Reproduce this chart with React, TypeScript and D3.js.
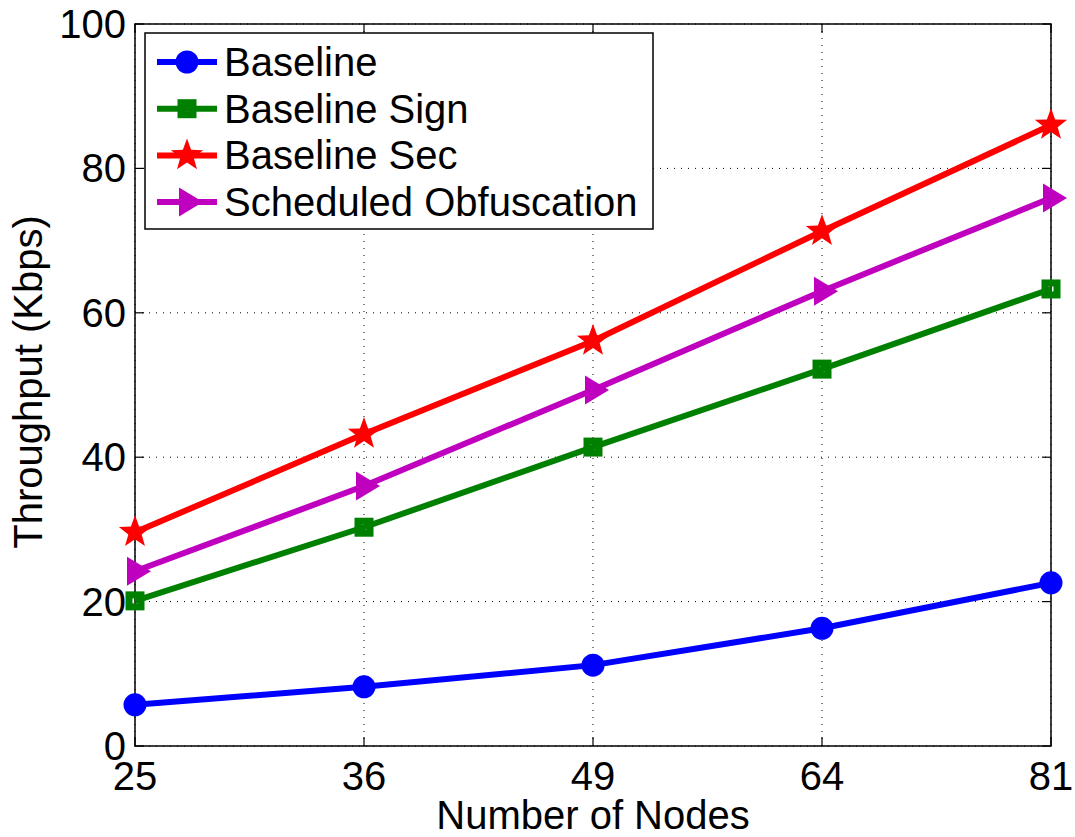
import React from "react";
import * as d3 from "d3";

const categories = ["25", "36", "49", "64", "81"];
const baseline = [5.7, 8.2, 11.2, 16.3, 22.6];
const baselineSign = [20.1, 30.3, 41.4, 52.2, 63.3];
const baselineSec = [29.6, 43.2, 56.1, 71.3, 86.0];
const scheduledObf = [24.2, 36.0, 49.3, 63.0, 75.9];
const yTicks = [0, 20, 40, 60, 80, 100];

const seriesNames = ["Baseline", "Baseline Sign", "Baseline Sec", "Scheduled Obfuscation"];
const seriesColors = ["#0000ff", "#008000", "#ff0000", "#bf00bf"];
const seriesMarkers = ["circle", "square", "star", "triangle"];

const W = 1075, H = 837;
const L = 135, R = 1051, T = 24, B = 746;
const FONT = "Liberation Sans, Arial, sans-serif";

function Marker({ type, x, y, color }: { type: string; x: number; y: number; color: string }) {
  if (type === "circle") return <circle cx={x} cy={y} r={11.5} fill={color} />;
  if (type === "square")
    return <rect x={x - 6} y={y - 6} width={12} height={12} fill="none" stroke={color} strokeWidth={7} />;
  if (type === "star") {
    const pts: string[] = [];
    for (let i = 0; i < 10; i++) {
      const r = i % 2 === 0 ? 17 : 7;
      const a = -Math.PI / 2 + (i * Math.PI) / 5;
      pts.push(`${x + r * Math.cos(a)},${y + r * Math.sin(a)}`);
    }
    return <polygon points={pts.join(" ")} fill={color} />;
  }
  return <polygon points={`${x - 8},${y - 14.5} ${x + 16},${y} ${x - 8},${y + 14.5}`} fill={color} />;
}

export default function App() {
  const x = d3.scalePoint<string>().domain(categories).range([L, R]);
  const y = d3.scaleLinear().domain([0, 100]).range([B, T]);
  const allSeries = [baseline, baselineSign, baselineSec, scheduledObf];
  const line = d3
    .line<number>()
    .x((_, i) => x(categories[i]) as number)
    .y((d) => y(d));

  return (
    <svg width={W} height={H} style={{ position: "absolute", left: 0, top: 0 }} fontFamily={FONT}>
      <rect x={0} y={0} width={W} height={H} fill="white" />
      {categories.map((c) => (
        <line key={"gx" + c} x1={x(c)} x2={x(c)} y1={T} y2={B} stroke="#000" strokeWidth={1} strokeDasharray="1,6" />
      ))}
      {yTicks.map((t) => (
        <line key={"gy" + t} x1={L} x2={R} y1={y(t)} y2={y(t)} stroke="#000" strokeWidth={1} strokeDasharray="1,6" />
      ))}
      {categories.map((c) => (
        <g key={"tx" + c}>
          <line x1={x(c)} x2={x(c)} y1={B} y2={B - 9} stroke="#000" strokeWidth={1.2} />
          <line x1={x(c)} x2={x(c)} y1={T} y2={T + 9} stroke="#000" strokeWidth={1.2} />
        </g>
      ))}
      {yTicks.map((t) => (
        <g key={"ty" + t}>
          <line x1={L} x2={L + 9} y1={y(t)} y2={y(t)} stroke="#000" strokeWidth={1.2} />
          <line x1={R} x2={R - 9} y1={y(t)} y2={y(t)} stroke="#000" strokeWidth={1.2} />
        </g>
      ))}
      <rect x={L} y={T} width={R - L} height={B - T} fill="none" stroke="#000" strokeWidth={1.5} />
      {categories.map((c) => (
        <text key={"lx" + c} x={x(c)} y={790} textAnchor="middle" fontSize={40}>
          {c}
        </text>
      ))}
      {yTicks.map((t) => (
        <text key={"ly" + t} x={126} y={y(t) + 14} textAnchor="end" fontSize={40}>
          {t}
        </text>
      ))}
      <text x={(L + R) / 2} y={829} textAnchor="middle" fontSize={40}>
        Number of Nodes
      </text>
      <text transform={`translate(42,382) rotate(-90)`} textAnchor="middle" fontSize={40}>
        Throughput (Kbps)
      </text>
      {allSeries.map((s, si) => (
        <g key={"s" + si}>
          <path d={line(s) || ""} fill="none" stroke={seriesColors[si]} strokeWidth={6} />
          {s.map((v, i) => (
            <Marker key={i} type={seriesMarkers[si]} x={x(categories[i]) as number} y={y(v)} color={seriesColors[si]} />
          ))}
        </g>
      ))}
      <rect x={145} y={33} width={508} height={196} fill="white" stroke="#000" strokeWidth={1.5} />
      {seriesNames.map((n, i) => {
        const ly = 62 + i * 46.7;
        return (
          <g key={"lg" + i}>
            <line x1={157} x2={217} y1={ly} y2={ly} stroke={seriesColors[i]} strokeWidth={6} />
            <Marker type={seriesMarkers[i]} x={187} y={ly} color={seriesColors[i]} />
            <text x={224} y={ly + 14} fontSize={40}>
              {n}
            </text>
          </g>
        );
      })}
    </svg>
  );
}
